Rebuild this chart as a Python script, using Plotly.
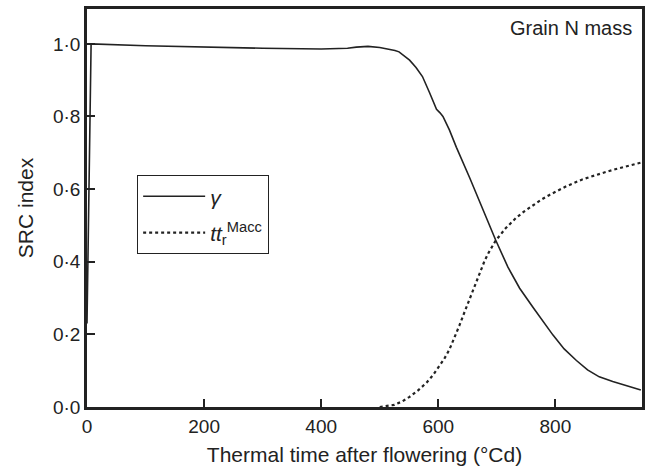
import plotly.graph_objects as go

# gamma (solid)
gamma_x = [0, 7, 100, 200, 300, 400, 430, 445, 460, 480, 500, 510, 517, 526, 533, 540, 551, 562, 573, 585, 597, 603, 608, 619, 631, 654, 680, 698, 719, 739, 762, 780, 796, 815, 836, 855, 875, 898, 920, 946]
gamma_y = [0.23, 1.0, 0.995, 0.991, 0.988, 0.986, 0.986, 0.988, 0.991, 0.993, 0.990, 0.987, 0.985, 0.982, 0.978, 0.970, 0.955, 0.935, 0.910, 0.866, 0.820, 0.810, 0.800, 0.763, 0.715, 0.630, 0.530, 0.460, 0.385, 0.327, 0.274, 0.232, 0.198, 0.160, 0.128, 0.102, 0.083, 0.070, 0.059, 0.047]

# tt_r^Macc (dotted)
ttr_x = [500, 512, 525, 538, 551, 565, 580, 591, 602, 610, 619, 627, 636, 645, 654, 663, 671, 679, 686, 698, 715, 733, 748, 762, 776, 790, 805, 819, 832, 845, 860, 875, 892, 910, 928, 946]
ttr_y = [0.0, 0.002, 0.006, 0.015, 0.028, 0.045, 0.067, 0.088, 0.112, 0.132, 0.158, 0.188, 0.224, 0.262, 0.300, 0.338, 0.372, 0.402, 0.425, 0.458, 0.492, 0.521, 0.540, 0.556, 0.571, 0.584, 0.597, 0.608, 0.617, 0.626, 0.634, 0.642, 0.650, 0.658, 0.666, 0.673]

x_ticks = [0, 200, 400, 600, 800]
y_ticks = [0.0, 0.2, 0.4, 0.6, 0.8, 1.0]
y_labels = ["0·0", "0·2", "0·4", "0·6", "0·8", "1·0"]

font = "Liberation Sans, Arial, sans-serif"
ink = "#222222"

fig = go.Figure()
fig.add_trace(go.Scatter(x=gamma_x, y=gamma_y, mode="lines", name="<i>γ</i>", legendgroup="g",
                         line=dict(color=ink, width=1.6)))
fig.add_trace(go.Scatter(x=ttr_x, y=ttr_y, mode="lines", name="<i>tt</i><sub>r</sub><sup>Macc</sup>",
                         legendgroup="t", line=dict(color=ink, width=2.2, dash="dot")))

fig.update_layout(
    width=650, height=467,
    margin=dict(l=87, r=8, t=9, b=60, autoexpand=False),
    paper_bgcolor="white", plot_bgcolor="white",
    font=dict(family=font, size=20, color=ink),
    showlegend=True,
    legend=dict(x=0.09, y=0.583, xanchor="left", yanchor="top",
                bordercolor=ink, borderwidth=1.2, bgcolor="white",
                font=dict(size=21), tracegroupgap=6, itemwidth=62),
    xaxis=dict(range=[0, 948], tickvals=x_ticks, ticks="inside", ticklen=8, tickwidth=2,
               tickcolor=ink, showline=True, linecolor=ink, linewidth=2.5,
               mirror=True, showgrid=False, zeroline=False, automargin=False,
               title=dict(text="Thermal time after flowering (°Cd)", font=dict(size=21), standoff=12),
               tickfont=dict(size=19)),
    yaxis=dict(range=[0, 1.096], tickvals=y_ticks, ticktext=y_labels, ticks="inside", ticklen=8,
               tickwidth=2, tickcolor=ink, showline=True, linecolor=ink, linewidth=2.5,
               mirror=True, showgrid=False, zeroline=False, automargin=False,
               title=dict(text="SRC index", font=dict(size=21), standoff=14),
               tickfont=dict(size=19)),
    annotations=[dict(text="Grain N mass", xref="paper", yref="paper", x=0.985, y=0.985,
                      xanchor="right", yanchor="top", showarrow=False, font=dict(size=20))],
)

fig.write_html("out.html")
